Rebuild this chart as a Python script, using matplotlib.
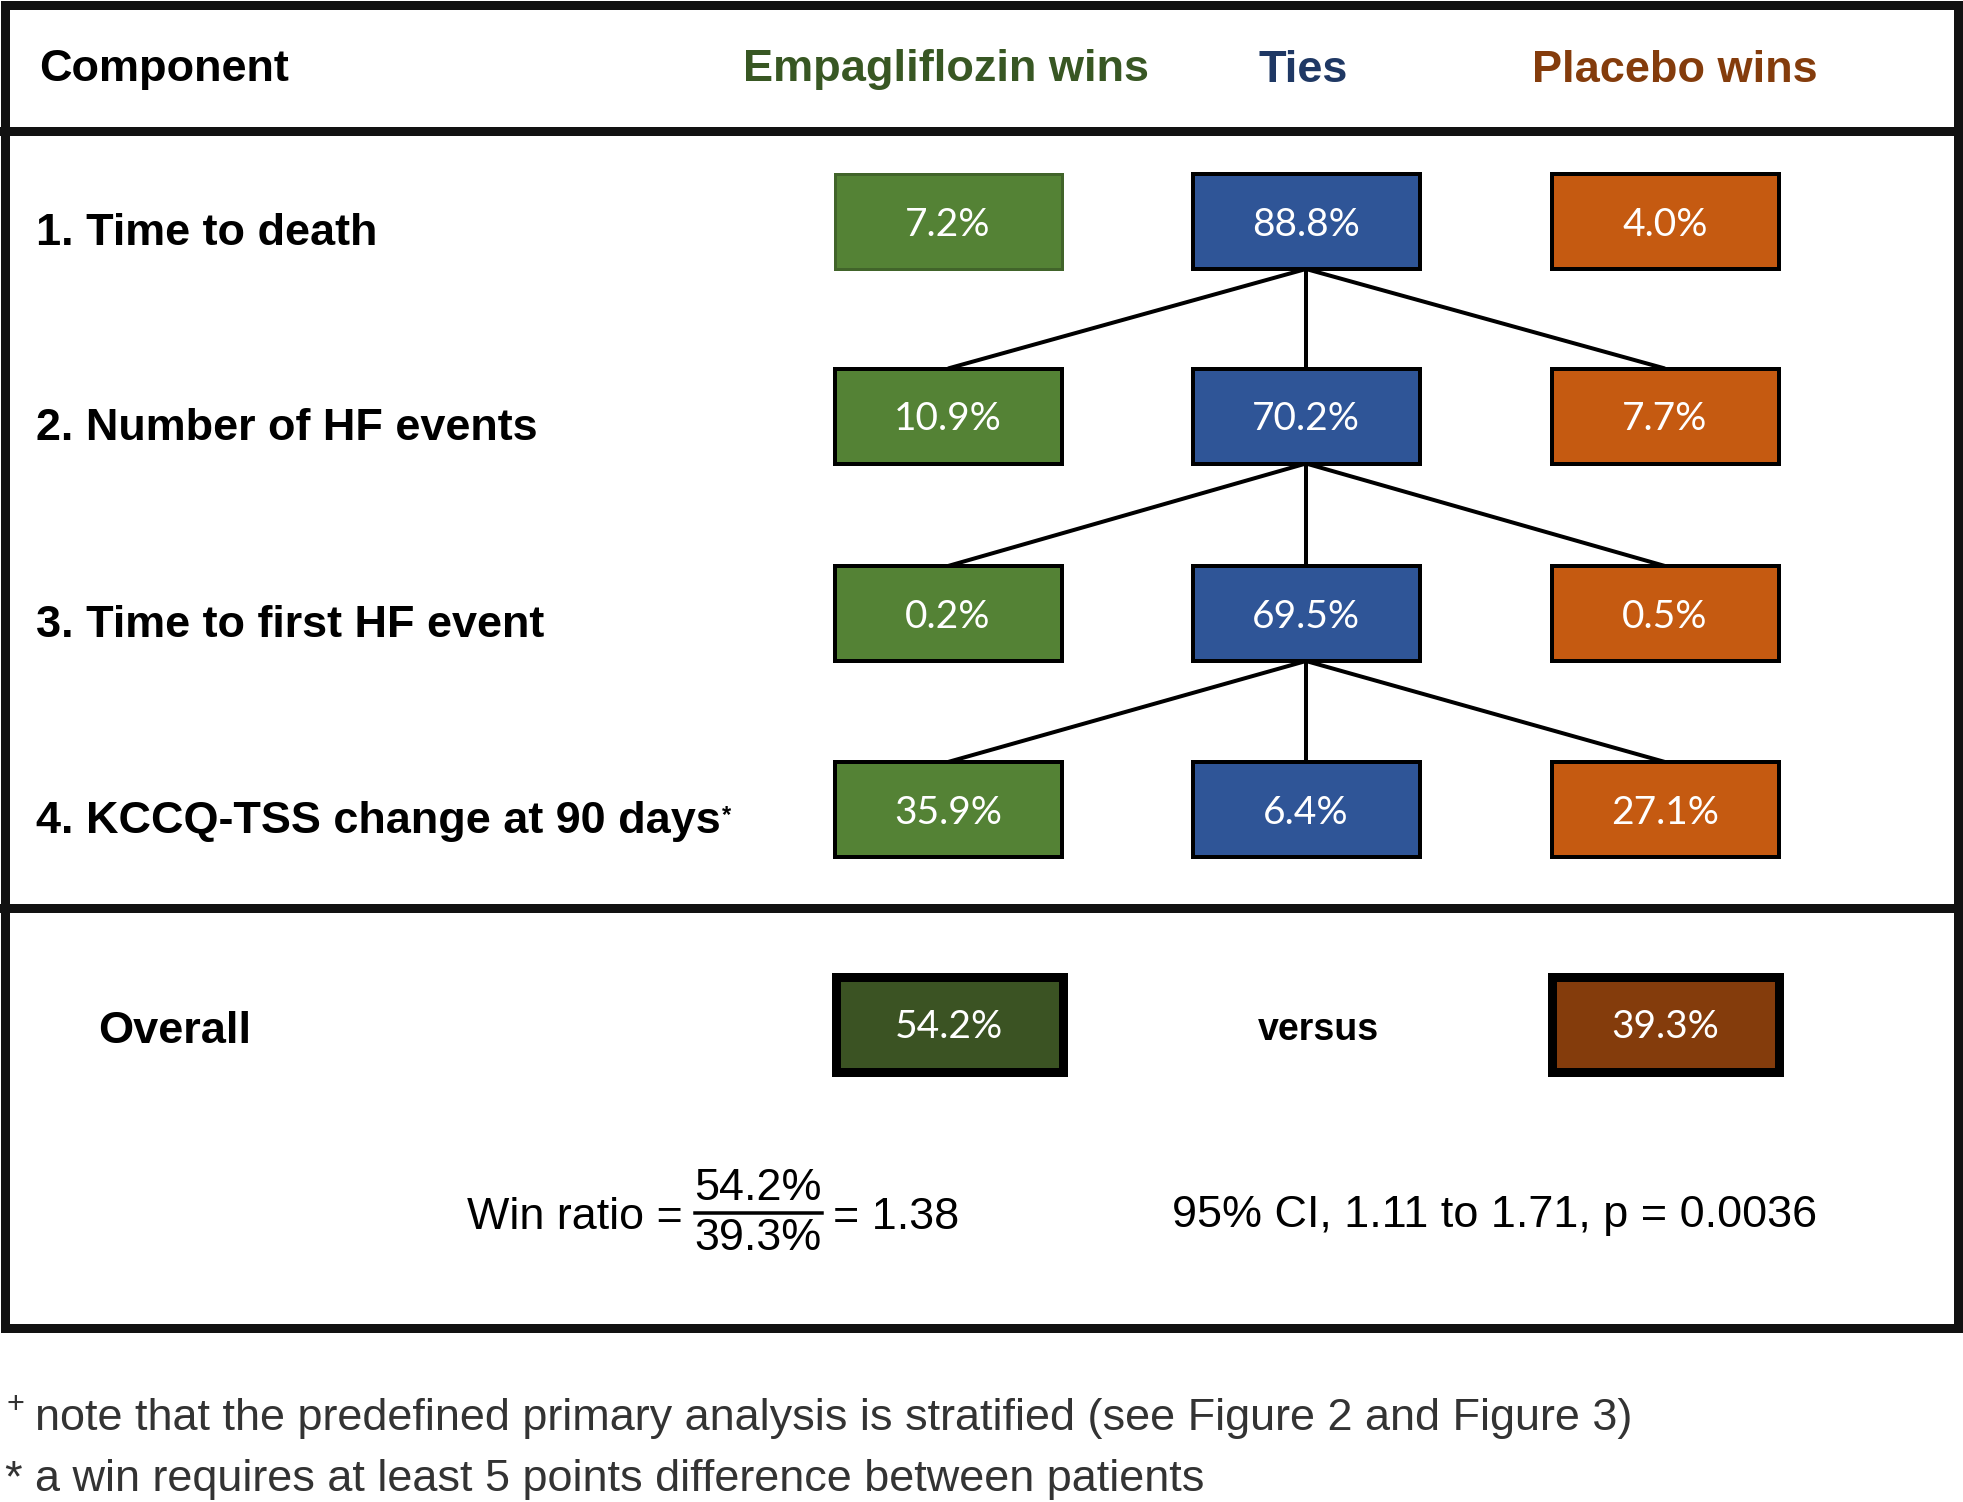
import matplotlib
matplotlib.use("Agg")
import matplotlib.pyplot as plt
from matplotlib.patches import Rectangle

# data
components = [
    "1. Time to death",
    "2. Number of HF events",
    "3. Time to first HF event",
    "4. KCCQ-TSS change at 90 days",
]
empa_wins = [7.2, 10.9, 0.2, 35.9]
ties = [88.8, 70.2, 69.5, 6.4]
placebo_wins = [4.0, 7.7, 0.5, 27.1]
overall_empa = 54.2
overall_placebo = 39.3
win_ratio = 1.38
ci_low, ci_high = 1.11, 1.71
p_value = "0.0036"
headers = ["Empagliflozin wins", "Ties", "Placebo wins"]
footnote_plus = "note that the predefined primary analysis is stratified (see Figure 2 and Figure 3)"
footnote_star = "a win requires at least 5 points difference between patients"

# layout (pixel units of the 1963x1502 canvas)
W, H = 1963, 1502
col_x = [948, 1306, 1665]
row_y = [221.5, 416, 613.5, 809.5]
overall_y = 1024.5
box_w, box_h = 227, 95
px = 0.72  # points per pixel at dpi 100

fill = ["#548235", "#2F5597", "#C55A11"]
head_col = ["#385723", "#1F3864", "#843C0C"]
dark_fill = ["#3B5323", "#843C0C"]
ink = "#111111"
note_col = "#333333"

bold = dict(family="Liberation Sans", fontweight="bold")
reg = dict(family="Liberation Sans")
boxfont = dict(family="Lato", color="white", fontsize=28)

fig = plt.figure(figsize=(W / 100, H / 100), dpi=100)
ax = fig.add_axes([0, 0, 1, 1])
ax.set_xlim(0, W)
ax.set_ylim(H, 0)
ax.axis("off")

# frame and separators
ax.add_patch(Rectangle((5, 4.5), 1953, 1323, fill=False, lw=9 * px, ec=ink, zorder=5))
ax.plot([0, W], [131, 131], color=ink, lw=9 * px, zorder=5)
ax.plot([0, W], [907.5, 907.5], color=ink, lw=9 * px, zorder=5)

# header
ax.text(39, 70, "Component", fontsize=32.5, va="center", ha="left", color="black", **bold)
for x, lab, c in zip([946, 1303, 1675], headers, head_col):
    ax.text(x, 70, lab, fontsize=32.5, va="center", ha="center", color=c, **bold)


def box(x, y, val, fc, ec="black", lw=4.0):
    ax.add_patch(Rectangle((x - box_w / 2, y - box_h / 2), box_w, box_h,
                           fc=fc, ec=ec, lw=lw * px, zorder=3))
    ax.text(x, y + 3, f"{val:.1f}%", ha="center", va="center", zorder=4, **boxfont)


series = [empa_wins, ties, placebo_wins]
for i, name in enumerate(components):
    y = row_y[i]
    t = ax.text(36, y + 12, name, fontsize=32.4, va="center", ha="left", **bold)
    for j in range(3):
        ec = "#41642A" if (i == 0 and j == 0) else "black"
        lw = 3.0 if (i == 0 and j == 0) else 4.0
        box(col_x[j], y, series[j][i], fill[j], ec=ec, lw=lw)
    # connectors from the ties box to the next row
    if i < len(components) - 1:
        for j in range(3):
            ax.plot([col_x[1], col_x[j]], [y + box_h / 2, row_y[i + 1] - box_h / 2],
                    color="black", lw=4 * px, zorder=2, solid_capstyle="butt")

# superscript after the KCCQ label
ax.annotate("*", xy=(1, 1), xycoords=t, xytext=(1, -2), textcoords="offset points",
            fontsize=17, ha="left", va="top", **bold)

# overall
ax.text(98, overall_y + 7, "Overall", fontsize=32.5, va="center", ha="left", **bold)
box(col_x[0] + 1, overall_y, overall_empa, dark_fill[0], lw=9)
box(col_x[2], overall_y, overall_placebo, dark_fill[1], lw=9)
ax.text(1318, overall_y + 6, "versus", fontsize=27, va="center", ha="center", **bold)

# win ratio
ax.text(467, 1213, "Win ratio =", fontsize=32.3, va="center_baseline", ha="left", **reg)
ax.text(758, 1189, f"{overall_empa:.1f}%", fontsize=32.3, va="center", ha="center", **reg)
ax.text(758, 1239, f"{overall_placebo:.1f}%", fontsize=32.3, va="center", ha="center", **reg)
ax.plot([695, 822], [1213, 1213], color="black", lw=3.5 * px)
ax.text(833, 1213, f"= {win_ratio:.2f}", fontsize=32.3, va="center_baseline", ha="left", **reg)
ax.text(1495, 1211, f"95% CI, {ci_low:.2f} to {ci_high:.2f}, p = {p_value}",
        fontsize=32.4, va="center_baseline", ha="center", **reg)

# footnotes
ax.text(15.5, 1405, "+", fontsize=22, va="center", ha="center", color=note_col, **reg)
ax.text(35, 1430, footnote_plus, fontsize=32.4, va="baseline", ha="left", color=note_col, **reg)
ax.text(4, 1491, "*", fontsize=32.4, va="baseline", ha="left", color=note_col, **reg)
ax.text(35, 1491, footnote_star, fontsize=32.4, va="baseline", ha="left", color=note_col, **reg)

fig.savefig("out.png", dpi=100)
